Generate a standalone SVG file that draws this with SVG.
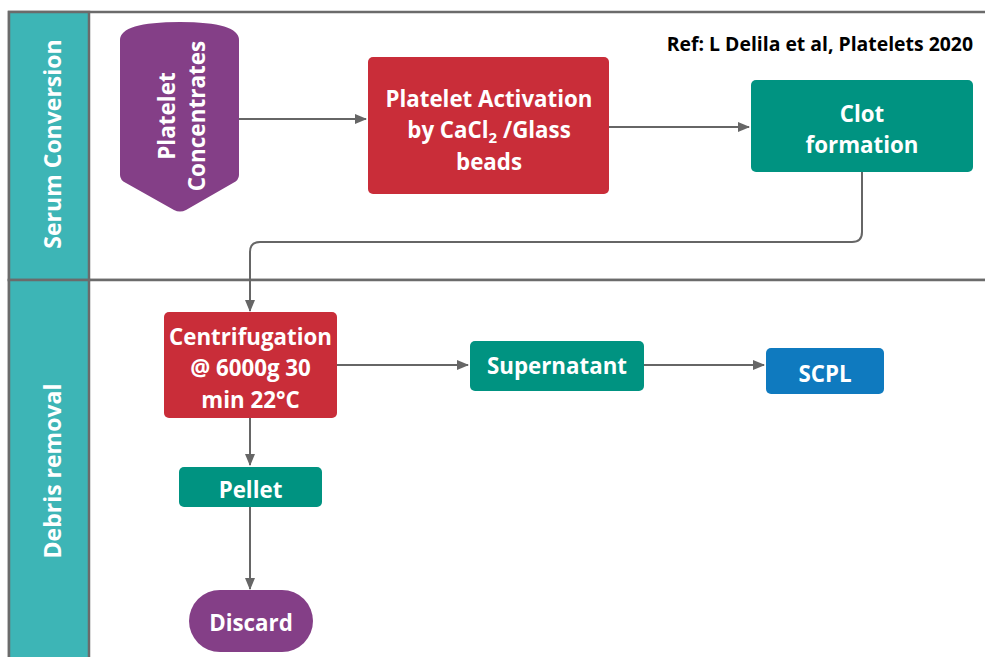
<svg xmlns="http://www.w3.org/2000/svg" width="985" height="657" viewBox="0 0 985 657">
<defs>
<marker id="arr" markerWidth="12" markerHeight="12" refX="11" refY="6" orient="auto" markerUnits="userSpaceOnUse">
<path d="M0,1 L12,6 L0,11 Z" fill="#666"/>
</marker>
<style>
.lane{fill:#fff;stroke:#6b6b6b;stroke-width:2.5}
.hdr{fill:#3db5b6;stroke:#6b6b6b;stroke-width:2.5}
.t{font-family:"Open Sans","Liberation Sans",sans-serif;font-weight:700;fill:#fff;text-anchor:middle;font-size:22.3px}
.c{fill:none;stroke:#666;stroke-width:2}
.red{fill:#c92d39}
.teal{fill:#009381}
.pur{fill:#843f87}
.blue{fill:#0f7abf}
</style>
</defs>
<rect width="985" height="657" fill="#fff"/>
<g id="lanes">
<rect class="lane" x="9" y="12" width="990" height="268"/>
<rect class="lane" x="9" y="280" width="990" height="390"/>
<rect class="hdr" x="9" y="12" width="80" height="268"/>
<rect class="hdr" x="9" y="280" width="80" height="390"/>
<text class="t" style="font-size:23px" transform="translate(61,144) rotate(-90)">Serum Conversion</text>
<text class="t" style="font-size:23px" transform="translate(61,471) rotate(-90)">Debris removal</text>
</g>
<text x="973" y="51" font-family="'Open Sans','Liberation Sans',sans-serif" font-weight="700" font-size="19.4" text-anchor="end" fill="#000">Ref: L Delila et al, Platelets 2020</text>
<g id="connectors">
<path class="c" d="M239,119 H366" marker-end="url(#arr)"/>
<path class="c" d="M609,127 H749" marker-end="url(#arr)"/>
<path class="c" d="M862,172 V232 Q862,242 852,242 H260 Q250,242 250,252 V311" marker-end="url(#arr)"/>
<path class="c" d="M337,365 H468" marker-end="url(#arr)"/>
<path class="c" d="M644,365 H764" marker-end="url(#arr)"/>
<path class="c" d="M250,418 V465" marker-end="url(#arr)"/>
<path class="c" d="M250,507 V589" marker-end="url(#arr)"/>
</g>
<g id="platelet-concentrates">
<path class="pur" d="M120,40 Q120,22 180,22 Q239,22 239,40 V175 Q239,180 233,183 L186,210 Q180,213 174,210 L126,183 Q120,180 120,175 Z"/>
<text class="t" style="font-size:22.5px" transform="translate(175,116) rotate(-90)">Platelet</text>
<text class="t" style="font-size:22.5px" transform="translate(205,116) rotate(-90)">Concentrates</text>
</g>
<g id="platelet-activation">
<rect class="red" x="368" y="57" width="241" height="137" rx="5"/>
<text class="t" x="489" y="107">Platelet Activation</text>
<text class="t" x="489" y="138">by CaCl<tspan style="font-size:15px" dy="5">2</tspan><tspan dy="-5"> /Glass</tspan></text>
<text class="t" x="489" y="170">beads</text>
</g>
<g id="clot-formation">
<rect class="teal" x="751" y="80" width="222" height="92" rx="5"/>
<text class="t" x="862" y="122">Clot</text>
<text class="t" x="862" y="153">formation</text>
</g>
<g id="centrifugation">
<rect class="red" x="164" y="312" width="173" height="106" rx="5"/>
<text class="t" x="250.5" y="345">Centrifugation</text>
<text class="t" x="250.5" y="376">@ 6000g 30</text>
<text class="t" x="250.5" y="408">min 22°C</text>
</g>
<g id="supernatant">
<rect class="teal" x="470" y="341" width="174" height="50" rx="5"/>
<text class="t" x="557" y="374">Supernatant</text>
</g>
<g id="scpl">
<rect class="blue" x="766" y="348" width="118" height="46" rx="5"/>
<text class="t" x="825" y="382">SCPL</text>
</g>
<g id="pellet">
<rect class="teal" x="179" y="467" width="143" height="40" rx="5"/>
<text class="t" x="250.5" y="498">Pellet</text>
</g>
<g id="discard">
<rect class="pur" x="189" y="590" width="124" height="62" rx="31"/>
<text class="t" x="251" y="631">Discard</text>
</g>
</svg>
